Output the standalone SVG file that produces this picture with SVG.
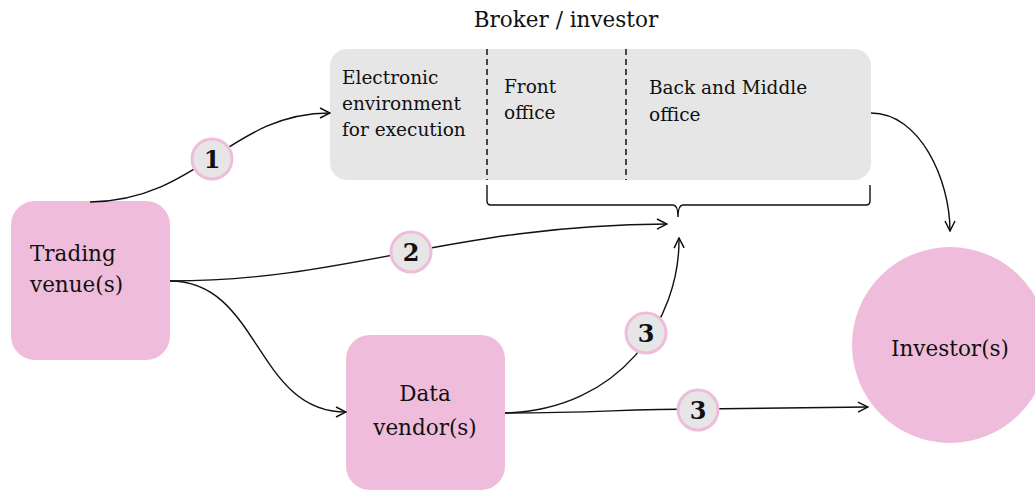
<svg xmlns="http://www.w3.org/2000/svg" width="1035" height="490" viewBox="0 0 1035 490">
<defs>
<style>
.t{font-family:"DejaVu Serif","Liberation Serif",serif;fill:#111;}
.box{font-size:18.5px;}
.big{font-size:21.5px;}
.badge circle{fill:#e6e6e6;stroke:#efbddb;stroke-width:3;}
.badge text{font-family:"DejaVu Serif","Liberation Serif",serif;font-weight:bold;font-size:24px;fill:#111;text-anchor:middle;}
.conn path{fill:none;stroke:#111;stroke-width:1.4;}
.dash{stroke:#111;stroke-width:1.5;stroke-dasharray:6,4;}
</style>
<marker id="arr" viewBox="0 0 12 12" refX="11" refY="6" markerWidth="12" markerHeight="12" markerUnits="userSpaceOnUse" orient="auto">
<path d="M1,1 L11,6 L1,11" fill="none" stroke="#111" stroke-width="1.5"/>
</marker>
</defs>
<rect width="1035" height="490" fill="#fff"/>
<g id="broker">
<text class="t" x="566" y="27" font-size="21.5" text-anchor="middle">Broker / investor</text>
<rect x="330" y="49" width="541" height="131" rx="17" fill="#e6e6e6"/>
<line class="dash" x1="487" y1="49" x2="487" y2="180"/>
<line class="dash" x1="626" y1="49" x2="626" y2="180"/>
<text class="t box" x="342" y="84">Electronic</text>
<text class="t box" x="342" y="110">environment</text>
<text class="t box" x="342" y="136">for execution</text>
<text class="t box" x="504" y="93">Front</text>
<text class="t box" x="504" y="119">office</text>
<text class="t box" x="649" y="94">Back and Middle</text>
<text class="t box" x="649" y="121">office</text>
</g>
<g id="trading">
<rect x="11" y="201" width="159" height="159" rx="24" fill="#efbddb"/>
<text class="t big" x="30" y="261">Trading</text>
<text class="t big" x="30" y="292">venue(s)</text>
</g>
<g id="vendor">
<rect x="346" y="335" width="159" height="155" rx="24" fill="#efbddb"/>
<text class="t big" x="425" y="401" text-anchor="middle">Data</text>
<text class="t big" x="425" y="435" text-anchor="middle">vendor(s)</text>
</g>
<g id="investor">
<circle cx="950" cy="345" r="98" fill="#efbddb"/>
<text class="t big" x="950" y="356" text-anchor="middle">Investor(s)</text>
</g>
<g id="connectors" class="conn">
<path d="M487,185 V201 Q487,205 491,205 H673 Q678,205 678,217 Q678,205 683,205 H866 Q870,205 870,201 V185"/>
<path d="M90,202 C200,200 230,113 330,113" marker-end="url(#arr)"/>
<path d="M170,281 C350,281 450,225 667,224" marker-end="url(#arr)"/>
<path d="M170,281 C260,281 255,412 346,412" marker-end="url(#arr)"/>
<path d="M505,413 C620,410 680,320 679,238" marker-end="url(#arr)"/>
<path d="M505,413 C600,413 620,409 700,409 L868,407" marker-end="url(#arr)"/>
<path d="M871,113 C920,113 950,180 950,231" marker-end="url(#arr)"/>
</g>
<g id="badges">
<g class="badge"><circle cx="212" cy="159" r="20"/><text x="212" y="168">1</text></g>
<g class="badge"><circle cx="411" cy="252" r="20"/><text x="411" y="261">2</text></g>
<g class="badge"><circle cx="646" cy="333" r="20"/><text x="646" y="342">3</text></g>
<g class="badge"><circle cx="698" cy="410" r="20"/><text x="698" y="419">3</text></g>
</g>
</svg>
